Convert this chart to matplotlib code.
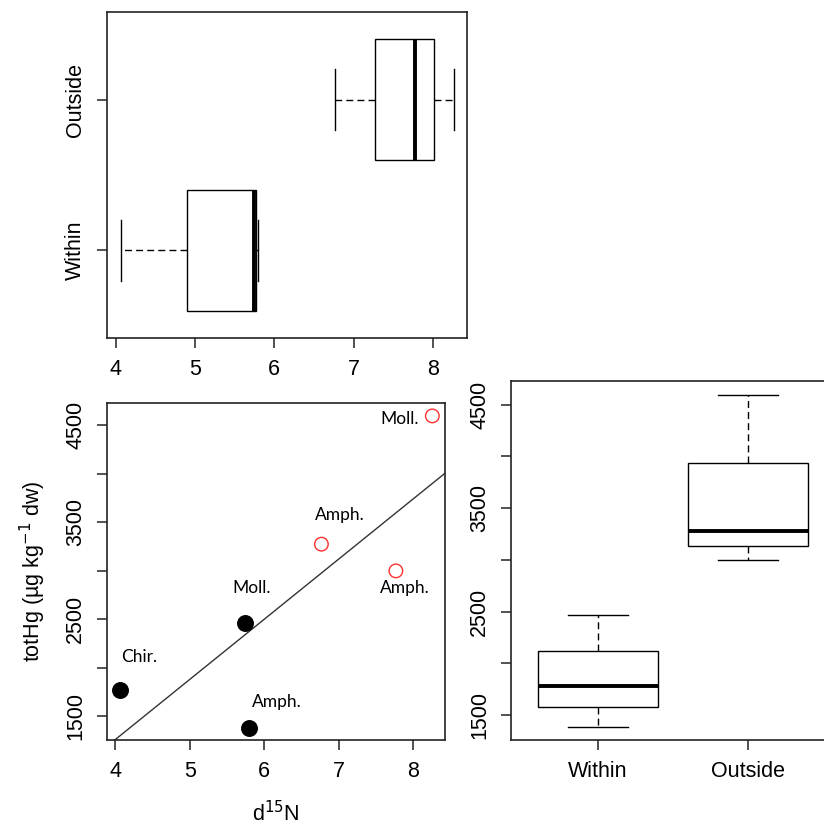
import numpy as np
import matplotlib
matplotlib.use("Agg")
import matplotlib.pyplot as plt

plt.rcParams["font.family"] = ["Liberation Sans", "DejaVu Sans"]

# --- DADOS ---
grupos = ["Within", "Outside"]
d15n_within = [4.07, 5.74, 5.80]
d15n_outside = [6.77, 7.77, 8.26]
hg_within = [1776, 2462, 1385]
hg_outside = [3275, 3000, 4597]
rotulos_within = ["Chir.", "Moll.", "Amph."]
rotulos_outside = ["Amph.", "Amph.", "Moll."]
# posição dos rótulos (d15N, totHg)
rot_x_within = [4.32, 5.83, 6.17]
rot_y_within = [2114, 2828, 1645]
rot_x_outside = [7.02, 7.89, 7.82]
rot_y_outside = [3576, 2828, 4569]

XLIM = (3.89, 8.43)
YLIM = (1257, 4730)
FS = 15.5

box_kw = dict(
    widths=0.8,
    capwidths=0.4,
    whis=1.5,
    patch_artist=True,
    boxprops=dict(facecolor="white", edgecolor="black", linewidth=1.0),
    medianprops=dict(color="black", linewidth=2.8, solid_capstyle="butt"),
    whiskerprops=dict(color="black", linewidth=1.0, linestyle=(0, (5, 3))),
    capprops=dict(color="black", linewidth=1.0),
    showfliers=False,
)


def estilo(ax):
    for s in ax.spines.values():
        s.set_linewidth(1.2)
        s.set_color("#222222")
    ax.tick_params(direction="out", length=7, width=1.1, color="#222222",
                   labelsize=FS, pad=8)


fig = plt.figure(figsize=(8.24, 8.25), dpi=100)

# --- painel superior: d15N por grupo (horizontal) ---
ax_top = fig.add_axes([107 / 824, 1 - 338 / 825, 360 / 824, 326 / 825])
ax_top.boxplot([d15n_within, d15n_outside], vert=False, positions=[1, 2], **box_kw)
ax_top.set_xlim(*XLIM)
ax_top.set_ylim(0.42, 2.58)
ax_top.set_xticks([4, 5, 6, 7, 8])
ax_top.set_yticks([1, 2])
ax_top.set_yticklabels(grupos, rotation=90, va="center")
estilo(ax_top)

# --- painel de dispersão ---
ax_sc = fig.add_axes([107 / 824, 1 - 740 / 825, 338 / 824, 337 / 825])
ax_sc.scatter(d15n_within, hg_within, s=125, color="black", zorder=3)
ax_sc.scatter(d15n_outside, hg_outside, s=95, facecolors="none",
              edgecolors="#ff3030", linewidths=1.0, zorder=3)

# reta de regressão com todos os pontos
x_all = np.array(d15n_within + d15n_outside)
y_all = np.array(hg_within + hg_outside)
a, b = np.polyfit(x_all, y_all, 1)
ax_sc.axline((0, b), slope=a, color="#333333", linewidth=1.0)

for txt, xx, yy in zip(rotulos_within + rotulos_outside,
                       rot_x_within + rot_x_outside,
                       rot_y_within + rot_y_outside):
    ax_sc.text(xx, yy, txt, ha="center", va="center", fontsize=12.5,
               family=["Lato", "DejaVu Sans"], color="black")

ax_sc.set_xlim(*XLIM)
ax_sc.set_ylim(*YLIM)
ax_sc.set_xticks([4, 5, 6, 7, 8])
ax_sc.set_yticks([1500, 2000, 2500, 3000, 3500, 4000, 4500])
ax_sc.set_yticklabels(["1500", "", "2500", "", "3500", "", "4500"],
                      rotation=90, va="center")
ax_sc.set_xlabel("d$^{15}$N", fontsize=FS, labelpad=14)
ax_sc.set_ylabel("totHg (µg kg$^{-1}$ dw)", fontsize=FS, labelpad=12)
estilo(ax_sc)

# --- painel direito: totHg por grupo ---
ax_r = fig.add_axes([511 / 824, 1 - 740 / 825, 324 / 824, 359 / 825])
ax_r.boxplot([hg_within, hg_outside], positions=[1, 2], **box_kw)
ax_r.set_xlim(0.42, 2.58)
ax_r.set_ylim(*YLIM)
ax_r.set_xticks([1, 2])
ax_r.set_xticklabels(grupos)
ax_r.set_yticks([1500, 2000, 2500, 3000, 3500, 4000, 4500])
ax_r.set_yticklabels(["1500", "", "2500", "", "3500", "", "4500"],
                     rotation=90, va="center")
estilo(ax_r)

fig.savefig("out.png", dpi=100)
